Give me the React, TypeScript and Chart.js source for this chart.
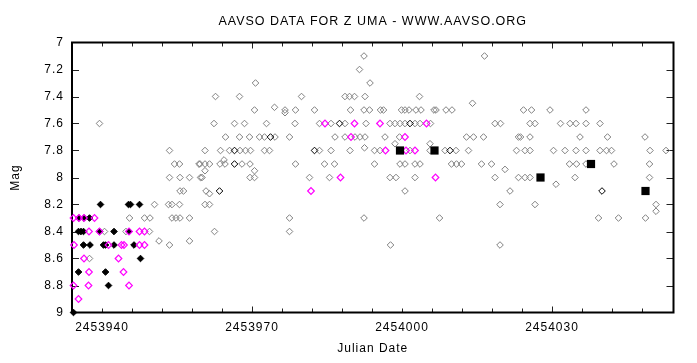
import { useEffect, useRef } from "react";
import { Chart, registerables } from "chart.js";

Chart.register(...registerables);

const TITLE = "AAVSO DATA FOR Z UMA - WWW.AAVSO.ORG";
const X_LABEL = "Julian Date";
const Y_LABEL = "Mag";
const xTickValues = [2453940, 2453970, 2454000, 2454030];
const yTickValues = [7, 7.2, 7.4, 7.6, 7.8, 8, 8.2, 8.4, 8.6, 8.8, 9];
const X_MIN = 2453934;
const X_MAX = 2454054.3;
const Y_MIN = 7;
const Y_MAX = 9;

type P = [number, number];

// visual observations (gray open diamonds)
const visualGray: P[] = [
  [2453937.5, 8.6], [2453951.4, 8.47], [2453953.5, 8.5], [2453957.5, 8.47],
  [2453940.5, 8.4], [2453944.8, 8.4], [2453949.5, 8.4],
  [2453945.5, 8.3], [2453948.5, 8.3], [2453949.6, 8.3], [2453954.0, 8.3], [2453954.8, 8.3], [2453955.6, 8.3], [2453957.5, 8.3],
  [2453950.5, 8.2], [2453953.3, 8.2], [2453954.0, 8.2], [2453955.5, 8.2],
  [2453955.6, 8.1], [2453956.3, 8.1],
  [2453953.5, 8.0], [2453955.6, 8.0], [2453957.5, 8.0], [2453959.7, 8.0],
  [2453954.5, 7.9], [2453955.5, 7.9], [2453959.4, 7.9],
  [2453953.5, 7.8], [2453939.5, 7.6],
  [2453970.7, 7.3],
  [2453962.7, 7.4], [2453967.5, 7.4], [2453979.9, 7.4],
  [2453970.5, 7.5], [2453974.5, 7.48], [2453976.6, 7.5], [2453976.6, 7.52], [2453978.7, 7.5], [2453982.5, 7.5],
  [2453962.4, 7.6], [2453966.5, 7.6], [2453968.5, 7.6], [2453972.9, 7.6], [2453978.6, 7.6], [2453983.5, 7.6], [2453985.8, 7.6],
  [2453964.7, 7.7], [2453967.5, 7.7], [2453969.5, 7.7], [2453971.5, 7.7], [2453972.5, 7.7], [2453974.6, 7.7], [2453977.5, 7.7], [2453986.6, 7.7],
  [2453960.6, 7.8], [2453963.7, 7.8], [2453965.5, 7.8], [2453967.6, 7.8], [2453968.7, 7.8], [2453969.7, 7.8], [2453972.5, 7.8], [2453973.5, 7.8], [2453983.5, 7.8], [2453985.8, 7.8],
  [2453959.6, 7.9], [2453960.6, 7.9], [2453961.5, 7.9], [2453963.6, 7.9], [2453964.6, 7.9], [2453964.4, 7.87], [2453968.0, 7.9], [2453969.6, 7.9], [2453978.7, 7.9], [2453984.5, 7.9], [2453986.5, 7.9],
  [2453960.6, 7.95], [2453970.5, 7.95],
  [2453960.0, 8.0], [2453969.6, 8.0], [2453970.5, 8.0], [2453981.5, 8.0], [2453985.5, 8.0],
  [2453960.8, 8.1], [2453961.5, 8.12],
  [2453960.6, 8.2], [2453961.5, 8.2],
  [2453977.5, 8.3], [2453962.5, 8.4], [2453977.5, 8.4],
  [2453992.4, 7.1], [2453991.5, 7.2], [2453993.6, 7.3],
  [2453988.6, 7.4], [2453989.5, 7.4], [2453990.5, 7.4], [2453992.6, 7.4], [2454003.5, 7.4], [2454014.1, 7.45],
  [2453989.7, 7.5], [2453992.4, 7.5], [2453993.5, 7.5], [2453995.7, 7.5], [2453996.3, 7.5], [2453999.9, 7.5], [2454000.6, 7.5],
  [2454001.4, 7.5], [2454002.8, 7.5], [2454003.8, 7.5], [2454006.4, 7.5], [2454006.8, 7.5], [2454008.8, 7.5], [2454010.0, 7.5],
  [2453988.6, 7.6], [2453992.8, 7.6], [2453997.6, 7.6], [2453998.6, 7.6], [2453999.6, 7.6], [2454000.6, 7.6], [2454002.6, 7.6], [2454003.6, 7.6], [2454005.7, 7.6],
  [2453988.6, 7.7], [2453990.6, 7.7], [2453991.6, 7.7], [2453992.6, 7.7], [2453996.6, 7.7], [2453999.5, 7.7], [2454012.9, 7.7], [2454014.3, 7.7],
  [2453998.6, 7.75], [2454005.6, 7.75],
  [2453989.6, 7.8], [2453992.5, 7.78], [2453994.5, 7.8], [2453995.6, 7.8], [2454001.6, 7.8], [2454005.6, 7.8], [2454008.6, 7.8], [2454010.8, 7.8], [2454013.3, 7.8],
  [2453994.5, 7.9], [2453999.6, 7.9], [2454000.6, 7.9], [2454002.6, 7.9], [2454003.6, 7.9], [2454009.9, 7.9], [2454010.9, 7.9], [2454011.9, 7.9],
  [2453997.6, 8.0], [2453998.8, 8.0], [2454002.6, 8.0],
  [2454000.6, 8.1], [2453992.4, 8.3], [2454007.5, 8.3], [2453997.7, 8.5],
  [2454016.5, 7.1],
  [2454024.3, 7.5], [2454025.9, 7.5], [2454029.6, 7.5], [2454036.8, 7.5],
  [2454018.6, 7.6], [2454019.7, 7.6], [2454025.6, 7.6], [2454026.6, 7.6], [2454031.7, 7.6], [2454033.6, 7.6], [2454034.8, 7.6], [2454036.8, 7.6], [2454039.6, 7.6],
  [2454016.3, 7.7], [2454023.3, 7.7], [2454023.7, 7.7], [2454025.6, 7.7], [2454035.6, 7.7], [2454041.1, 7.7], [2454048.6, 7.7],
  [2454022.9, 7.8], [2454024.6, 7.8], [2454025.6, 7.8], [2454030.3, 7.8], [2454032.6, 7.8], [2454034.8, 7.8], [2454036.8, 7.8],
  [2454039.6, 7.8], [2454040.9, 7.8], [2454041.9, 7.8], [2454049.6, 7.8], [2454052.8, 7.8],
  [2454015.9, 7.9], [2454017.9, 7.9], [2454033.5, 7.9], [2454034.9, 7.9], [2454036.8, 7.9], [2454042.4, 7.9], [2454049.5, 7.9], [2454020.6, 7.94],
  [2454018.6, 8.0], [2454023.3, 8.0], [2454024.6, 8.0], [2454025.6, 8.0], [2454034.6, 8.0], [2454049.5, 8.0], [2454030.8, 8.05],
  [2454021.6, 8.1],
  [2454019.6, 8.2], [2454026.6, 8.2], [2454050.8, 8.2], [2454050.8, 8.25],
  [2454039.3, 8.3], [2454043.3, 8.3], [2454048.7, 8.3],
  [2454019.6, 8.5],
];

// darker open diamonds
const visualBlack: P[] = [
  [2453987.5, 7.6], [2453973.7, 7.7], [2453966.5, 7.8], [2453982.5, 7.8], [2453966.5, 7.9], [2453963.5, 8.1],
  [2454001.6, 7.6], [2454009.6, 7.8], [2454040.0, 8.1],
];

// magenta open diamonds
const magentaObs: P[] = [
  [2453935.3, 8.9], [2453934.3, 8.8], [2453937.3, 8.8], [2453945.4, 8.8],
  [2453937.4, 8.7], [2453944.3, 8.7], [2453936.4, 8.6], [2453943.3, 8.6],
  [2453934.4, 8.5], [2453941.3, 8.5], [2453943.9, 8.5], [2453944.4, 8.5], [2453947.5, 8.5], [2453948.5, 8.5],
  [2453937.4, 8.4], [2453939.5, 8.4], [2453945.4, 8.4], [2453947.5, 8.4], [2453948.5, 8.4],
  [2453934.3, 8.3], [2453935.4, 8.3], [2453936.4, 8.3], [2453938.5, 8.3],
  [2453984.6, 7.6], [2453990.5, 7.6], [2453995.6, 7.6], [2454004.9, 7.6],
  [2453989.8, 7.7], [2454000.6, 7.7],
  [2453996.7, 7.8], [2454000.8, 7.8], [2454002.6, 7.8],
  [2453987.7, 8.0], [2454006.7, 8.0], [2453981.8, 8.1],
];

// black filled diamonds
const filledBlack: P[] = [
  [2453934.3, 9.0], [2453941.3, 8.8], [2453935.3, 8.7], [2453940.7, 8.7], [2453947.7, 8.6],
  [2453936.3, 8.5], [2453937.6, 8.5], [2453940.3, 8.5], [2453940.7, 8.5], [2453942.4, 8.5], [2453946.4, 8.5],
  [2453935.3, 8.4], [2453935.8, 8.4], [2453936.3, 8.4], [2453939.5, 8.4], [2453942.4, 8.4], [2453945.4, 8.4],
  [2453935.4, 8.3], [2453936.4, 8.3], [2453937.5, 8.3],
  [2453939.7, 8.2], [2453945.3, 8.2], [2453945.7, 8.2], [2453947.5, 8.2],
];

// black filled squares
const squareBlack: P[] = [
  [2453999.6, 7.8], [2454006.5, 7.8], [2454027.7, 8.0], [2454037.8, 7.9], [2454048.7, 8.1],
];

const FONT = "'Liberation Sans', Arial, Helvetica, sans-serif";

const toXY = (arr: P[]) => arr.map(([x, y]) => ({ x, y }));

const spacingPlugin = {
  id: "spacing",
  beforeDraw(chart: any) {
    (chart.ctx as any).letterSpacing = "1px";
  },
};

const framePlugin = {
  id: "frameTicks",
  beforeDatasetsDraw(chart: any) {
    const { ctx, chartArea: a, scales } = chart;
    const x = scales.x;
    const y = scales.y;
    ctx.save();
    ctx.strokeStyle = "#222";
    ctx.lineWidth = 1;
    ctx.beginPath();
    for (let v = X_MIN + 6; v < X_MAX - 1; v += 6) {
      const px = Math.round(x.getPixelForValue(v)) + 0.5;
      const len = v === 2453970 || v === 2454030 ? 6 : 4;
      ctx.moveTo(px, a.bottom);
      ctx.lineTo(px, a.bottom - len);
      ctx.moveTo(px, a.top);
      ctx.lineTo(px, a.top + len);
    }
    for (const v of yTickValues) {
      if (v === Y_MIN || v === Y_MAX) continue;
      const py = Math.round(y.getPixelForValue(v)) + 0.5;
      ctx.moveTo(a.left, py);
      ctx.lineTo(a.left + 7, py);
      ctx.moveTo(a.right, py);
      ctx.lineTo(a.right - 7, py);
    }
    ctx.stroke();
    ctx.strokeStyle = "#000";
    ctx.lineWidth = 2;
    ctx.strokeRect(a.left, a.top, a.right - a.left, a.bottom - a.top);
    ctx.restore();
  },
};

export default function App() {
  const ref = useRef<HTMLCanvasElement | null>(null);

  useEffect(() => {
    if (!ref.current) return;
    const common = { showLine: false, clip: false as any };
    const chart = new Chart(ref.current, {
      type: "scatter",
      data: {
        datasets: [
          {
            ...common,
            label: "squares",
            data: toXY(squareBlack),
            pointStyle: "rect",
            pointRadius: 5.8,
            backgroundColor: "#000",
            borderColor: "#000",
            borderWidth: 0,
          },
          {
            ...common,
            label: "magenta",
            data: toXY(magentaObs),
            pointStyle: "rectRot",
            pointRadius: 3.3,
            backgroundColor: "rgba(0,0,0,0)",
            borderColor: "#ff00ff",
            borderWidth: 1.2,
          },
          {
            ...common,
            label: "filled",
            data: toXY(filledBlack),
            pointStyle: "rectRot",
            pointRadius: 3.3,
            backgroundColor: "#000",
            borderColor: "#000",
            borderWidth: 1,
          },
          {
            ...common,
            label: "black",
            data: toXY(visualBlack),
            pointStyle: "rectRot",
            pointRadius: 3.3,
            backgroundColor: "rgba(0,0,0,0)",
            borderColor: "#000",
            borderWidth: 1,
          },
          {
            ...common,
            label: "visual",
            data: toXY(visualGray),
            pointStyle: "rectRot",
            pointRadius: 3.3,
            backgroundColor: "rgba(0,0,0,0)",
            borderColor: "#808080",
            borderWidth: 1,
          },
        ],
      },
      options: {
        animation: false,
        responsive: false,
        devicePixelRatio: 1,
        events: [],
        layout: { padding: { left: 0, right: 23.5, top: 0, bottom: 0 } },
        plugins: {
          legend: { display: false },
          tooltip: { enabled: false },
          title: {
            display: true,
            text: TITLE,
            fullSize: false,
            color: "#000",
            font: { family: FONT, size: 12.5, weight: "normal", lineHeight: 1.2 },
            padding: { top: 14, bottom: 13.5 },
          },
        },
        scales: {
          x: {
            type: "linear",
            position: "bottom",
            min: X_MIN,
            max: X_MAX,
            grid: { display: false, drawTicks: false },
            border: { display: false },
            afterBuildTicks: (s: any) => {
              s.ticks = xTickValues.map((v) => ({ value: v }));
            },
            afterFit: (s: any) => {
              s.height = 50.5;
            },
            ticks: {
              autoSkip: false,
              maxRotation: 0,
              padding: 8,
              color: "#000",
              font: { family: FONT, size: 12 },
              callback: (v: any) => String(v),
            },
            title: {
              display: true,
              text: X_LABEL,
              color: "#000",
              font: { family: FONT, size: 12 },
              padding: { top: 0, bottom: 7.3 },
            },
          },
          y: {
            type: "linear",
            position: "left",
            reverse: true,
            min: Y_MIN,
            max: Y_MAX,
            grid: { display: false, drawTicks: false },
            border: { display: false },
            afterBuildTicks: (s: any) => {
              s.ticks = yTickValues.map((v) => ({ value: v }));
            },
            afterFit: (s: any) => {
              s.width = 72;
            },
            ticks: {
              autoSkip: false,
              padding: 8,
              color: "#000",
              font: { family: FONT, size: 12 },
              callback: (v: any) => String(v),
            },
            title: {
              display: true,
              text: Y_LABEL,
              color: "#000",
              font: { family: FONT, size: 12 },
              padding: { top: 8.8, bottom: 0 },
            },
          },
        },
      },
      plugins: [spacingPlugin, framePlugin],
    } as any);
    return () => chart.destroy();
  }, []);

  return (
    <div style={{ position: "absolute", left: 0, top: 0, width: 697, height: 363, background: "#fff" }}>
      <canvas ref={ref} width={697} height={363} style={{ display: "block" }} />
    </div>
  );
}
